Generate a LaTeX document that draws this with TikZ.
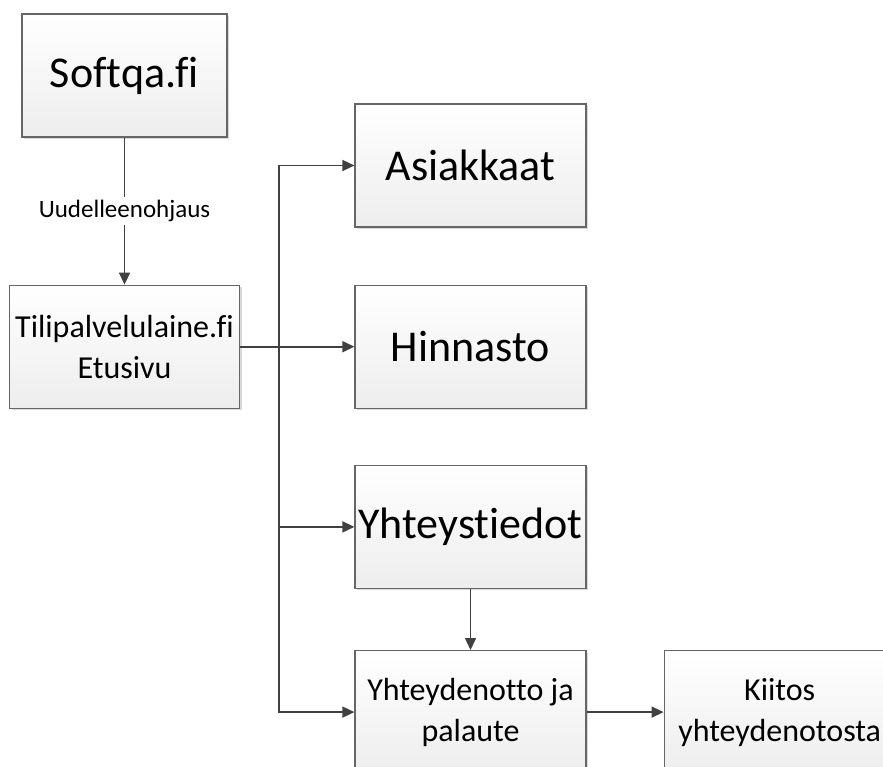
\documentclass[tikz,border=0pt]{standalone}
\usepackage{fontspec}
\setmainfont{Carlito}[Ligatures={NoCommon}]
\usetikzlibrary{shadows,arrows.meta,positioning}

\tikzset{
  page/.style={draw=black!60,line width=1.2pt,top color=white,bottom color=black!7,
    minimum width=231pt,minimum height=123pt,inner sep=2pt,align=center,
    drop shadow={shadow xshift=2pt,shadow yshift=-2pt,fill=black!15,opacity=1}},
  big/.style={font=\fontsize{44}{52}\selectfont},
  small/.style={font=\fontsize{32}{41}\selectfont},
  link/.style={->,>={Triangle[length=12pt,width=11pt]},draw=black!75,line width=1.6pt}
}

\begin{document}
\begin{tikzpicture}[x=1pt,y=-1pt]
\clip (0,0) rectangle (883,767);

\node[page,big,minimum width=205pt] (softqa) at (124.5,75.5) {Softqa.fi};
\node[page,small,minimum width=230pt,below=147pt of softqa] (tili) {Tilipalvelulaine.fi\\Etusivu};

\node[page,big] (asiakkaat) at (470.5,165.5) {Asiakkaat};
\node[page,big,below=57pt of asiakkaat] (hinnasto) {Hinnasto};
\node[page,big,below=56pt of hinnasto] (yhteystiedot) {Yhteystiedot};
\node[page,small,below=61pt of yhteystiedot] (palaute) {Yhteydenotto ja\\palaute};
\node[page,small,right=77pt of palaute] (kiitos) {Kiitos\\yhteydenotosta};

\coordinate[right=39pt of tili.east] (hub);

\draw[link] (softqa) -- node[fill=white,inner sep=3pt,font=\fontsize{25}{30}\selectfont] {Uudelleenohjaus} (tili);
\draw[draw=black!75,line width=2.4pt] (tili.east) -- (hub);
\draw[link] (hub) |- (asiakkaat.west);
\draw[link] (hub) -- (hinnasto.west);
\draw[link] (hub) |- (yhteystiedot.west);
\draw[link] (hub) |- (palaute.west);
\draw[link] (yhteystiedot) -- (palaute);
\draw[link] (palaute) -- (kiitos);
\end{tikzpicture}
\end{document}
